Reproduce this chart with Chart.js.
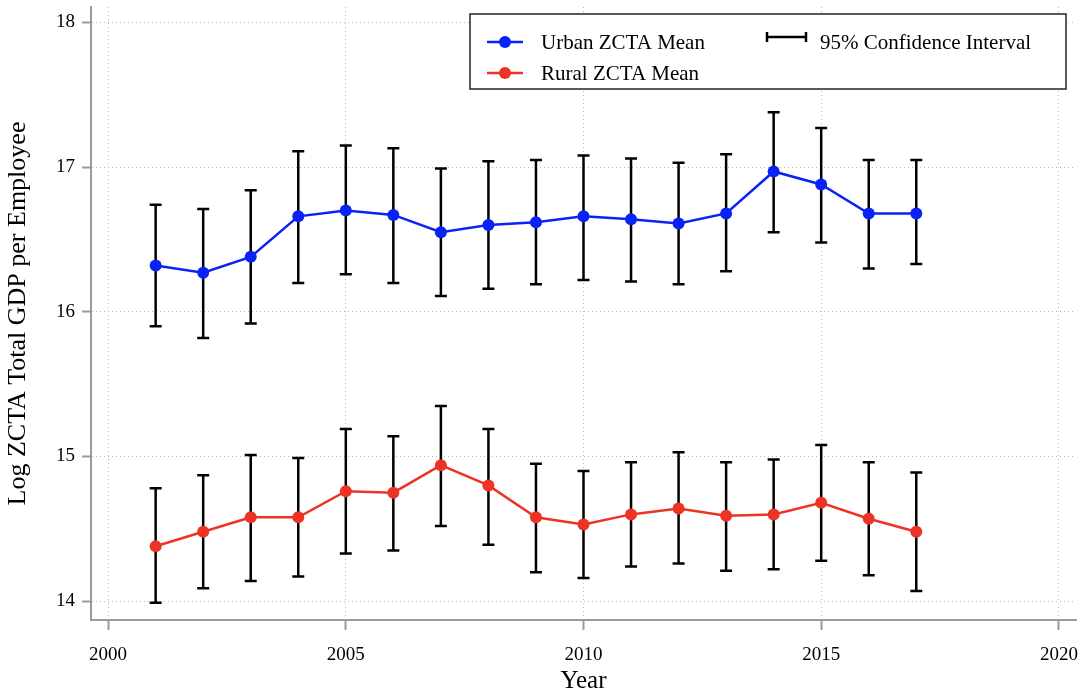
<!DOCTYPE html>
<html>
<head>
<meta charset="utf-8">
<script src="https://cdn.jsdelivr.net/npm/chart.js@4/dist/chart.umd.min.js"></script>
<style>
  html, body { margin: 0; padding: 0; background: #fff; }
  #wrap { width: 1082px; height: 693px; }
</style>
</head>
<body>
<div id="wrap"><canvas id="gdpChart" width="1082" height="693"></canvas></div>
<script>
// data
const years = [2001, 2002, 2003, 2004, 2005, 2006, 2007, 2008, 2009, 2010, 2011, 2012, 2013, 2014, 2015, 2016, 2017];
const urbanMean = [16.32, 16.27, 16.38, 16.66, 16.70, 16.67, 16.55, 16.60, 16.62, 16.66, 16.64, 16.61, 16.68, 16.97, 16.88, 16.68, 16.68];
const urbanLow  = [15.90, 15.82, 15.92, 16.20, 16.26, 16.20, 16.11, 16.16, 16.19, 16.22, 16.21, 16.19, 16.28, 16.55, 16.48, 16.30, 16.33];
const urbanHigh = [16.74, 16.71, 16.84, 17.11, 17.15, 17.13, 16.99, 17.04, 17.05, 17.08, 17.06, 17.03, 17.09, 17.38, 17.27, 17.05, 17.05];
const ruralMean = [14.38, 14.48, 14.58, 14.58, 14.76, 14.75, 14.94, 14.80, 14.58, 14.53, 14.60, 14.64, 14.59, 14.60, 14.68, 14.57, 14.48];
const ruralLow  = [13.99, 14.09, 14.14, 14.17, 14.33, 14.35, 14.52, 14.39, 14.20, 14.16, 14.24, 14.26, 14.21, 14.22, 14.28, 14.18, 14.07];
const ruralHigh = [14.78, 14.87, 15.01, 14.99, 15.19, 15.14, 15.35, 15.19, 14.95, 14.90, 14.96, 15.03, 14.96, 14.98, 15.08, 14.96, 14.89];
const xTicks = [2000, 2005, 2010, 2015, 2020];
const yTicks = [14, 15, 16, 17, 18];

const BLUE = '#0a22f5';
const RED = '#ec3326';
const AXIS = '#9a9a9a';
const GRID = '#b8b8b8';

Chart.defaults.font.family = '"Liberation Serif", "DejaVu Serif", serif';
Chart.defaults.color = '#000';

function pts(vals) {
    return years.map((yr, i) => ({ x: yr, y: vals[i] }));
}

// vertical 95% CI bars with caps, drawn under the points
const errorBars = {
    id: 'errorBars',
    beforeDatasetsDraw(chart) {
        const c = chart.ctx;
        const xs = chart.scales.x, ys = chart.scales.y;
        const sets = [[urbanLow, urbanHigh], [ruralLow, ruralHigh]];
        c.save();
        c.strokeStyle = '#000';
        c.lineWidth = 2.5;
        sets.forEach(([lo, hi]) => {
            years.forEach((yr, i) => {
                const px = xs.getPixelForValue(yr);
                const y1 = ys.getPixelForValue(lo[i]);
                const y2 = ys.getPixelForValue(hi[i]);
                c.beginPath();
                c.moveTo(px, y1); c.lineTo(px, y2);
                c.moveTo(px - 6, y1); c.lineTo(px + 6, y1);
                c.moveTo(px - 6, y2); c.lineTo(px + 6, y2);
                c.stroke();
            });
        });
        c.restore();
    }
};

// boxed two-column legend in the upper right
const boxLegend = {
    id: 'boxLegend',
    afterDraw(chart) {
        const c = chart.ctx;
        const L = 470, T = 14, W = 596, H = 75;
        c.save();
        c.fillStyle = '#fff';
        c.fillRect(L, T, W, H);
        c.strokeStyle = '#222';
        c.lineWidth = 1.5;
        c.strokeRect(L, T, W, H);

        c.font = '21px "Liberation Serif", serif';
        c.textBaseline = 'middle';
        c.fillStyle = '#000';

        const rows = [[BLUE, 'Urban ZCTA Mean', 42], [RED, 'Rural ZCTA Mean', 73]];
        rows.forEach(([col, label, y]) => {
            c.strokeStyle = col;
            c.lineWidth = 2.5;
            c.beginPath(); c.moveTo(487, y); c.lineTo(523, y); c.stroke();
            c.fillStyle = col;
            c.beginPath(); c.arc(505, y, 6, 0, Math.PI * 2); c.fill();
            c.fillStyle = '#000';
            c.fillText(label, 541, y + 1);
        });

        c.strokeStyle = '#000';
        c.lineWidth = 2.5;
        c.beginPath();
        c.moveTo(767, 37); c.lineTo(806, 37);
        c.moveTo(767, 32); c.lineTo(767, 42);
        c.moveTo(806, 32); c.lineTo(806, 42);
        c.stroke();
        c.fillText('95% Confidence Interval', 820, 43);
        c.restore();
    }
};

new Chart(document.getElementById('gdpChart'), {
    type: 'line',
    data: {
        datasets: [
            {
                label: 'Urban ZCTA Mean',
                data: pts(urbanMean),
                borderColor: BLUE,
                backgroundColor: BLUE,
                borderWidth: 2.5,
                pointRadius: 6,
                pointHoverRadius: 6,
                pointBorderWidth: 0
            },
            {
                label: 'Rural ZCTA Mean',
                data: pts(ruralMean),
                borderColor: RED,
                backgroundColor: RED,
                borderWidth: 2.5,
                pointRadius: 6,
                pointHoverRadius: 6,
                pointBorderWidth: 0
            }
        ]
    },
    options: {
        responsive: false,
        animation: false,
        layout: { padding: { top: 7, right: 5, left: 0, bottom: 0 } },
        plugins: {
            legend: { display: false },
            tooltip: { enabled: false }
        },
        scales: {
            x: {
                type: 'linear',
                min: 1999.64,
                max: 2020.36,
                afterBuildTicks: s => { s.ticks = xTicks.map(v => ({ value: v })); },
                afterFit: s => { s.height = 73; s.paddingLeft = 0; s.paddingRight = 0; },
                ticks: { font: { size: 19 }, padding: 14, callback: v => String(v) },
                grid: { color: GRID, lineWidth: 1, tickColor: AXIS, tickWidth: 2, tickLength: 10, tickBorderDash: [] },
                border: { color: AXIS, width: 2, dash: [1, 3] },
                title: { display: true, text: 'Year', font: { size: 25 }, padding: { top: 0, bottom: -3 } }
            },
            y: {
                type: 'linear',
                min: 13.87,
                max: 18.107,
                afterBuildTicks: s => { s.ticks = yTicks.map(v => ({ value: v })); },
                afterFit: s => { s.width = 91; s.paddingTop = 0; s.paddingBottom = 0; },
                ticks: { font: { size: 19 }, padding: 7, callback: v => String(v) },
                grid: { color: GRID, lineWidth: 1, tickColor: AXIS, tickWidth: 2, tickLength: 9, tickBorderDash: [] },
                border: { color: AXIS, width: 2, dash: [1, 3] },
                title: { display: true, text: 'Log ZCTA Total GDP per Employee', font: { size: 26 }, padding: { top: 3, bottom: 0 } }
            }
        }
    },
    plugins: [errorBars, boxLegend]
});
</script>
</body>
</html>
